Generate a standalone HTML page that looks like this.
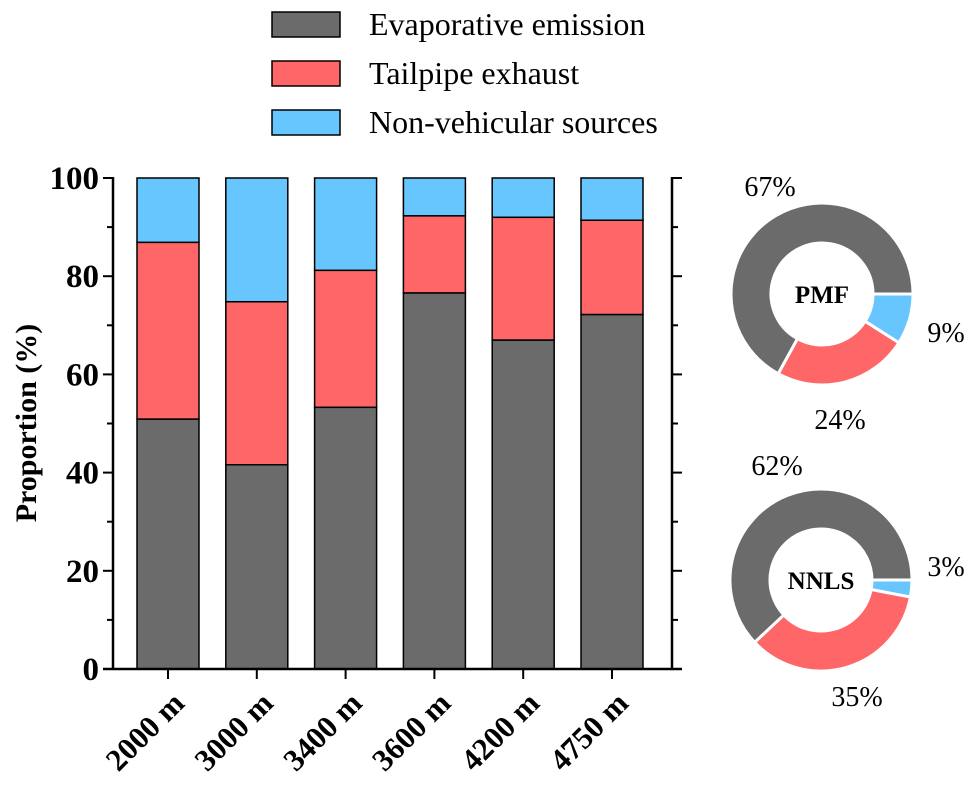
<!DOCTYPE html>
<html><head><meta charset="utf-8"><style>
body{margin:0;background:#fff}
svg, svg text{font-family:"Liberation Serif","DejaVu Serif",serif}
</style></head><body>
<svg id="c" width="976" height="783" font-family="Liberation Serif, DejaVu Serif, serif"></svg>
<script>
const categories=["2000 m","3000 m","3400 m","3600 m","4200 m","4750 m"];
const evap=[50.9,41.6,53.3,76.6,67.0,72.2];
const tail=[36.0,33.2,27.9,15.7,25.0,19.2];
const nonv=[13.1,25.2,18.8,7.7,8.0,8.6];
const yTicks=[0,20,40,60,80,100];
const pieNames=["PMF","NNLS"];
const pieEvap=[67,62];
const pieTail=[24,35];
const pieNon=[9,3];
const colors=["#6b6b6b","#fe6668","#67c6fd"];
const seriesNames=["Evaporative emission","Tailpipe exhaust","Non-vehicular sources"];
const NS="http://www.w3.org/2000/svg";
const svg=document.getElementById('c');
function mk(t,a,p){const e=document.createElementNS(NS,t);for(const k in a)e.setAttribute(k,a[k]);(p||svg).appendChild(e);return e;}
const X0=113,X1=672,Y0=669,Y1=178;
const y=v=>Y0-(v/100)*(Y0-Y1);
const step=88.8, bw=62;
const xc=i=>168+i*step;
categories.forEach((c,i)=>{
  const segs=[evap[i],tail[i],nonv[i]];let acc=0;
  segs.forEach((v,s)=>{
    const r=mk('rect',{x:xc(i)-bw/2,y:y(acc+v),width:bw,height:y(acc)-y(acc+v),fill:colors[s],stroke:'#000','stroke-width':1.5});
    
    
    acc+=v;
  });
});
let a=mk('line',{x1:X0,y1:Y1-1,x2:X0,y2:Y0,stroke:'#000','stroke-width':2.5});

a=mk('line',{x1:X1,y1:Y1-1,x2:X1,y2:Y0,stroke:'#000','stroke-width':2.5});

a=mk('line',{x1:X0-10,y1:Y0,x2:X1+10,y2:Y0,stroke:'#000','stroke-width':2.5});

for(let v=0;v<=100;v+=10){
  const L=v%20===0?10:6;
  mk('line',{x1:X0-L,y1:y(v),x2:X0,y2:y(v),stroke:'#000','stroke-width':2});
  mk('line',{x1:X1,y1:y(v),x2:X1+L,y2:y(v),stroke:'#000','stroke-width':2});
}
yTicks.forEach(v=>{
  const t=mk('text',{x:X0-14,y:y(v)+11,'text-anchor':'end','font-size':33,'font-weight':'bold'});
  t.textContent=v;
  
});
categories.forEach((c,i)=>{
  mk('line',{x1:xc(i),y1:Y0,x2:xc(i),y2:Y0+10,stroke:'#000','stroke-width':2});
  const ax=xc(i)+18, ay=Y0+36;
  const t=mk('text',{x:ax,y:ay,'text-anchor':'end','font-size':31,'font-weight':'bold',transform:`rotate(-45 ${ax} ${ay})`});
  t.textContent=c;
  
});
let yl=mk('text',{x:36,y:423,'text-anchor':'middle','font-size':30,'font-weight':'bold',transform:'rotate(-90 36 423)'});
yl.textContent='Proportion (%)';

seriesNames.forEach((n,i)=>{
  const yy=12+i*49;
  const g=mk('g',{});
  
  mk('rect',{x:272,y:yy,width:68,height:25,fill:colors[i],stroke:'#000','stroke-width':1.5},g);
  const t=mk('text',{x:369,y:yy+23,'font-size':32},g);t.textContent=n;
});
const centers=[[822,294],[821,580]];
const labelPos=[[[770,196],[840,429],[946,342]],[[777,475],[857,706],[946,576]]];
pieNames.forEach((p,k)=>{
  const [cx,cy]=centers[k];const R=91,r=51;
  const vals=[pieNon[k],pieTail[k],pieEvap[k]];const cols=[colors[2],colors[1],colors[0]];
  const tot=vals.reduce((s,v)=>s+v,0);let acc=0;
  vals.forEach((v,j)=>{
    const a0=acc/tot*2*Math.PI,a1=(acc+v)/tot*2*Math.PI;acc+=v;
    const P=(rr,aa)=>[cx+rr*Math.cos(aa),cy+rr*Math.sin(aa)];
    const lg=(a1-a0)>Math.PI?1:0;
    const [x1,y1]=P(R,a0),[x2,y2]=P(R,a1),[x3,y3]=P(r,a1),[x4,y4]=P(r,a0);
    const s=mk('path',{d:`M${x1},${y1}A${R},${R} 0 ${lg} 1 ${x2},${y2}L${x3},${y3}A${r},${r} 0 ${lg} 0 ${x4},${y4}Z`,fill:cols[j],stroke:'#fff','stroke-width':3});
    
  });
  const t=mk('text',{x:cx,y:cy+9,'text-anchor':'middle','font-size':25,'font-weight':'bold'});t.textContent=p;
  
  const lv=[pieEvap[k],pieTail[k],pieNon[k]];
  lv.forEach((v,j)=>{
    const q=mk('text',{x:labelPos[k][j][0],y:labelPos[k][j][1],'text-anchor':'middle','font-size':28});
    q.textContent=v+'%';
    
  });
});
</script>
</body></html>
